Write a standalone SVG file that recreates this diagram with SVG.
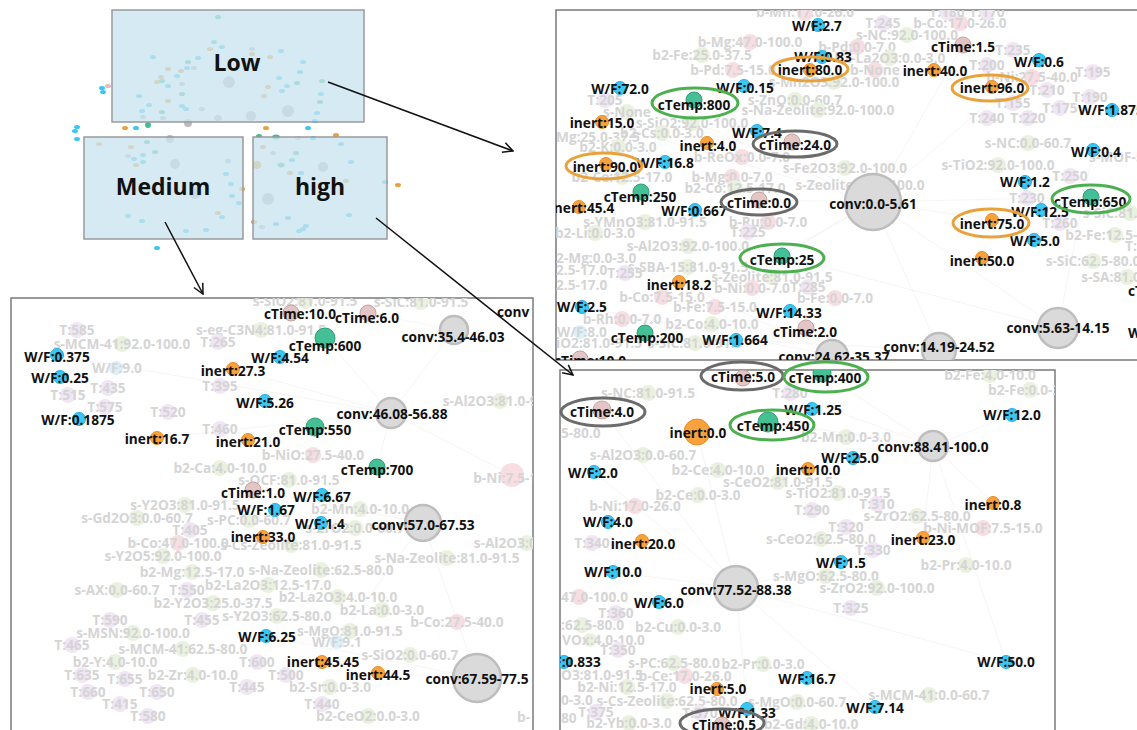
<svg xmlns="http://www.w3.org/2000/svg" width="1137" height="730" viewBox="0 0 1137 730">
<style>
text{font-family:"Open Sans","Noto Sans","DejaVu Sans",sans-serif;font-weight:bold;font-size:13.7px;text-anchor:middle}
.t{fill:#111}
.f{fill:#d5d5d5}
.fs0{text-anchor:start}
.wf{fill:#3cc6f2;stroke:#20aee6;stroke-width:1}
.in{fill:#f7a23c;stroke:#ea8d22;stroke-width:1}
.ct{fill:#45bf95;stroke:#2e9d76;stroke-width:1}
.ti{fill:#e3c5c5;stroke:#c9a2a2;stroke-width:1}
.cv{fill:#dadada;stroke:#bdbdbd;stroke-width:2.5}
.pb{fill:#f8dde3}.pg{fill:#eaf2df}.pt{fill:#f0e6f5}.pw{fill:#dbf0fa}
.ho{fill:none;stroke:#e9a23b;stroke-width:3}
.hg{fill:none;stroke:#4caf50;stroke-width:3}
.hk{fill:none;stroke:#6b6b6b;stroke-width:3}
.panel{fill:#fff;stroke:#7a7a7a;stroke-width:1.5}
.tb{fill:#c9e4ee;fill-opacity:0.78;stroke:#9a9a9a;stroke-width:1.5}
.big{font-size:23px;fill:#111}
.dc{fill:#3cc6f2}.do{fill:#e9a13f}.dg{fill:#3fbf92}.dk{fill:#bbb}.dp{fill:#e7b9c4}
.e{stroke:#f3eff1;stroke-width:0.7;fill:none}
.ar{stroke:#111;stroke-width:1.5;fill:none}
</style>
<defs>
<marker id="ah" viewBox="0 0 12 12" refX="11" refY="6" markerWidth="12" markerHeight="12" markerUnits="userSpaceOnUse" orient="auto"><path d="M1,1 L11,6 L1,11" fill="none" stroke="#111" stroke-width="1.5"/></marker>
<clipPath id="cTR"><rect x="556" y="10" width="600" height="350"/></clipPath>
<clipPath id="cBL"><rect x="11" y="298" width="522" height="450"/></clipPath>
<clipPath id="cBR"><rect x="560" y="370" width="495" height="380"/></clipPath>
</defs>
<rect width="1137" height="730" fill="#fff"/>

<!-- thumbnail overview -->
<g id="overview">
<g id="thumb-dots">
<ellipse class="dg" cx="218" cy="17" rx="3" ry="2"/><ellipse class="dc" cx="214" cy="42" rx="3" ry="2"/><ellipse class="dc" cx="222" cy="47" rx="3" ry="2"/><ellipse class="do" cx="210" cy="49" rx="3" ry="2"/><ellipse class="dk" cx="252" cy="49" rx="3" ry="2"/><ellipse class="do" cx="252" cy="54" rx="3" ry="2"/><ellipse class="dc" cx="281" cy="51" rx="3" ry="2"/><ellipse class="do" cx="270" cy="57" rx="3" ry="2"/><ellipse class="dc" cx="153" cy="57" rx="3" ry="2"/><ellipse class="dc" cx="198" cy="58" rx="3" ry="2"/><ellipse class="dg" cx="188" cy="62" rx="3" ry="2"/><ellipse class="dc" cx="303" cy="62" rx="3" ry="2"/><ellipse class="dc" cx="187" cy="68" rx="3" ry="2"/><ellipse class="dk" cx="194" cy="68" rx="3" ry="2"/><ellipse class="do" cx="168" cy="69" rx="3" ry="2"/><ellipse class="do" cx="181" cy="71" rx="3" ry="2"/><ellipse class="dc" cx="300" cy="72" rx="3" ry="2"/><ellipse class="dc" cx="177" cy="76" rx="3" ry="2"/><ellipse class="do" cx="161" cy="77" rx="3" ry="2"/><ellipse class="dc" cx="279" cy="78" rx="3" ry="2"/><ellipse class="do" cx="157" cy="82" rx="3" ry="2"/><ellipse class="dg" cx="162" cy="81" rx="3" ry="2"/><ellipse class="dg" cx="297" cy="83" rx="3" ry="2"/><ellipse class="dg" cx="322" cy="81" rx="3" ry="2"/><circle class="dk" cx="229" cy="82" r="6"/><ellipse class="dc" cx="168" cy="86" rx="3" ry="2"/><ellipse class="dk" cx="182" cy="84" rx="3" ry="2"/><ellipse class="do" cx="268" cy="87" rx="3" ry="2"/><ellipse class="dc" cx="287" cy="86" rx="3" ry="2"/><ellipse class="dc" cx="139" cy="96" rx="3" ry="2"/><ellipse class="dc" cx="282" cy="91" rx="3" ry="2"/><ellipse class="dg" cx="182" cy="94" rx="3" ry="2"/><ellipse class="do" cx="264" cy="96" rx="3" ry="2"/><ellipse class="dc" cx="321" cy="94" rx="3" ry="2"/><ellipse class="do" cx="168" cy="101" rx="3" ry="2"/><ellipse class="dc" cx="149" cy="105" rx="3" ry="2"/><ellipse class="dc" cx="182" cy="106" rx="3" ry="2"/><ellipse class="dg" cx="320" cy="102" rx="3" ry="2"/><ellipse class="dc" cx="186" cy="109" rx="3" ry="2"/><ellipse class="dk" cx="202" cy="109" rx="3" ry="2"/><ellipse class="dc" cx="142" cy="111" rx="3" ry="2"/><ellipse class="dg" cx="162" cy="112" rx="3" ry="2"/><circle class="dk" cx="288" cy="111" r="6"/><ellipse class="dc" cx="317" cy="113" rx="3" ry="2"/><ellipse class="dk" cx="143" cy="117" rx="3" ry="2"/><ellipse class="dk" cx="163" cy="118" rx="3" ry="2"/><ellipse class="dk" cx="218" cy="118" rx="4" ry="3"/><circle class="dk" cx="251" cy="116" r="5"/><ellipse class="dc" cx="315" cy="121" rx="3" ry="2"/>
<ellipse class="dc" cx="102" cy="88" rx="3" ry="2"/><ellipse class="dc" cx="103" cy="92" rx="3" ry="2"/><ellipse class="dp" cx="108" cy="86" rx="3" ry="2"/>
<ellipse class="dc" cx="77" cy="127" rx="3" ry="2"/><ellipse class="dc" cx="75" cy="131" rx="3" ry="2"/><ellipse class="dc" cx="77" cy="139" rx="3" ry="2"/>
<ellipse class="do" cx="125" cy="128" rx="3" ry="2"/><ellipse class="dc" cx="136" cy="128" rx="3" ry="2"/><circle class="dg" cx="148" cy="125" r="3"/><circle class="dk" cx="188" cy="123" r="4"/>
<ellipse class="do" cx="266" cy="128" rx="3" ry="2"/><ellipse class="dc" cx="308" cy="128" rx="3" ry="2"/><ellipse class="dg" cx="259" cy="136" rx="3" ry="2"/><ellipse class="dg" cx="276" cy="137" rx="4" ry="2.5"/><ellipse class="dp" cx="298" cy="138" rx="3" ry="2"/><ellipse class="do" cx="336" cy="135" rx="3" ry="2"/><ellipse class="dc" cx="313" cy="138" rx="3" ry="2"/>
<ellipse class="do" cx="398" cy="185" rx="3" ry="2"/><ellipse class="dc" cx="385" cy="182" rx="3" ry="2"/><ellipse class="dc" cx="157" cy="248" rx="3" ry="2"/>
<ellipse class="do" cx="99" cy="144" rx="3" ry="2"/><ellipse class="do" cx="131" cy="147" rx="3" ry="2"/><ellipse class="dg" cx="147" cy="142" rx="3" ry="2"/><circle class="dk" cx="170" cy="139" r="4"/><ellipse class="dk" cx="128" cy="156" rx="3" ry="2"/><ellipse class="dc" cx="143" cy="155" rx="3" ry="2"/><ellipse class="dg" cx="155" cy="152" rx="3" ry="2"/><ellipse class="dc" cx="134" cy="159" rx="3" ry="2"/><ellipse class="dc" cx="143" cy="162" rx="3" ry="2"/><ellipse class="do" cx="136" cy="165" rx="3" ry="2"/><circle class="dk" cx="175" cy="164" r="5"/><ellipse class="dk" cx="228" cy="161" rx="3" ry="2.5"/><ellipse class="dc" cx="226" cy="174" rx="3" ry="2"/><ellipse class="dc" cx="231" cy="184" rx="3" ry="2"/><ellipse class="do" cx="242" cy="189" rx="3" ry="2"/><ellipse class="dc" cx="232" cy="196" rx="3" ry="2"/><ellipse class="dc" cx="239" cy="203" rx="3" ry="2"/><ellipse class="do" cx="218" cy="213" rx="3" ry="2"/><ellipse class="dc" cx="222" cy="217" rx="3" ry="2"/><ellipse class="dc" cx="128" cy="216" rx="3" ry="2"/><ellipse class="dc" cx="142" cy="221" rx="3" ry="2"/><ellipse class="dc" cx="186" cy="231" rx="3" ry="2"/><ellipse class="dc" cx="206" cy="230" rx="3" ry="2"/><circle class="dk" cx="195" cy="193" r="6"/>
<ellipse class="do" cx="263" cy="147" rx="3" ry="2"/><ellipse class="dk" cx="273" cy="153" rx="3" ry="2"/><ellipse class="dg" cx="296" cy="153" rx="3" ry="2"/><ellipse class="dg" cx="281" cy="165" rx="3.5" ry="2.5"/><circle class="do" cx="257" cy="165" r="4"/><ellipse class="dc" cx="292" cy="160" rx="3" ry="2"/><circle class="dk" cx="323" cy="167" r="5"/><ellipse class="dc" cx="341" cy="144" rx="3" ry="2"/><ellipse class="dc" cx="351" cy="162" rx="3" ry="2"/><ellipse class="do" cx="290" cy="173" rx="3" ry="2"/><ellipse class="dc" cx="301" cy="173" rx="3" ry="2"/><ellipse class="do" cx="346" cy="181" rx="3" ry="2"/><circle class="dk" cx="268" cy="199" r="6"/><ellipse class="dc" cx="349" cy="215" rx="3" ry="2"/><ellipse class="dc" cx="288" cy="218" rx="3" ry="2"/><ellipse class="dc" cx="276" cy="224" rx="3" ry="2"/><ellipse class="dc" cx="306" cy="226" rx="3" ry="2"/><ellipse class="dc" cx="303" cy="229" rx="3" ry="2"/><ellipse class="dc" cx="299" cy="231" rx="3" ry="2"/><ellipse class="do" cx="254" cy="222" rx="3" ry="2"/><ellipse class="dk" cx="262" cy="227" rx="3" ry="2"/>
</g>
<g id="box-low"><rect class="tb" x="112" y="10" width="252" height="112"/><text class="big" x="237" y="71">Low</text></g>
<g id="box-medium"><rect class="tb" x="84" y="137" width="159" height="102"/><text class="big" x="163" y="195">Medium</text></g>
<g id="box-high"><rect class="tb" x="253" y="137" width="134" height="102"/><text class="big" x="320" y="195">high</text></g>
</g>

<!-- ===== Top-right panel (Low) ===== -->
<rect class="panel" x="556" y="10" width="600" height="350"/>
<g id="panel-low" clip-path="url(#cTR)">
<g id="tr-edges">
<path class="e" d="M873,202 L620,88 M873,202 L694,100 M873,202 L963,45 M873,202 L1091,197 M873,202 L782,256 M873,202 L645,333 M873,202 L1058,328 M873,202 L939,350 M873,202 L602,122 M873,202 L1039,60 M1058,328 L782,256 M1058,328 L1093,150 M939,350 L736,340 M832,355 L679,282 M832,355 L582,307 M873,202 L759,200 M873,202 L992,220"/>
</g>
<g id="tr-bg">
<g><circle class="pb" cx="805" cy="13" r="8"/><text class="f" x="805" y="17">b-Mn:17.0-26.0</text></g>
<g><circle class="pb" cx="750" cy="42" r="8"/><text class="f" x="750" y="46.5">b-Mg:47.0-100.0</text></g>
<g><circle class="pg" cx="702" cy="55" r="8"/><text class="f" x="702" y="59.5">b2-Fe:25.0-37.5</text></g>
<g><circle class="pb" cx="733" cy="70" r="8"/><text class="f" x="733" y="74.5">b-Pd:7.5-15.0</text></g>
<g><circle class="pg" cx="834" cy="82" r="8"/><text class="f" x="834" y="86.5">s-Mn2O3:92.0-100.0</text></g>
<g><circle class="pt" cx="605" cy="100" r="8"/><text class="f" x="605" y="104.5">T:205</text></g>
<g><circle class="pg" cx="627" cy="112" r="8"/><text class="f" x="627" y="116.5">s-None</text></g>
<g><circle class="pg" cx="795" cy="100" r="8"/><text class="f" x="795" y="104.5">s-ZnO:0.0-60.7</text></g>
<g><circle class="pg" cx="818" cy="110" r="8"/><text class="f" x="818" y="114.5">s-Na-Zeolite:92.0-100.0</text></g>
<g><circle class="pg" cx="692" cy="123" r="8"/><text class="f" x="692" y="127.5">s-SiO2:92.0-100.0</text></g>
<g><text class="f fs0" x="556" y="141.5">Mg:25.0-37.5</text></g>
<g><circle class="pg" cx="662" cy="133" r="8"/><text class="f" x="662" y="137.5">b2-Cs:0.0-3.0</text></g>
<g><circle class="pg" cx="618" cy="147" r="8"/><text class="f" x="618" y="151.5">b2-K:0.0-3.0</text></g>
<g><circle class="pb" cx="742" cy="157" r="8"/><text class="f" x="742" y="161.5">b-ReOx:0.0-7.0</text></g>
<g><circle class="pg" cx="845" cy="168" r="8"/><text class="f" x="845" y="172.5">s-Fe2O3:92.0-100.0</text></g>
<g><circle class="pb" cx="732" cy="177" r="8"/><text class="f" x="732" y="181.5">b-Mg:0.0-7.0</text></g>
<g><circle class="pg" cx="622" cy="177" r="8"/><text class="f" x="622" y="181.5">b2-Ce:12.5-17.0</text></g>
<g><circle class="pt" cx="883" cy="23" r="8"/><text class="f" x="883" y="27.5">T:245</text></g>
<g><circle class="pb" cx="960" cy="23" r="8"/><text class="f" x="960" y="27.5">b-Co:17.0-26.0</text></g>
<g><circle class="pt" cx="947" cy="12" r="8"/><text class="f" x="947" y="16.5">T:180</text></g>
<g><circle class="pt" cx="987" cy="12" r="8"/><text class="f" x="987" y="16.5">T:170</text></g>
<g><circle class="pg" cx="907" cy="35" r="8"/><text class="f" x="907" y="39.5">s-NC:92.0-100.0</text></g>
<g><circle class="pb" cx="857" cy="47" r="8"/><text class="f" x="857" y="51.5">b-Pd:0.0-7.0</text></g>
<g><circle class="pg" cx="890" cy="58" r="8"/><text class="f" x="890" y="62.5">b2-La2O3:0.0-3.0</text></g>
<g><circle class="pt" cx="1013" cy="50" r="8"/><text class="f" x="1013" y="54.5">T:235</text></g>
<g><circle class="pb" cx="875" cy="70" r="8"/><text class="f" x="875" y="74.5">b-None</text></g>
<g><circle class="pt" cx="987" cy="65" r="8"/><text class="f" x="987" y="69.5">T:200</text></g>
<g><circle class="pb" cx="1032" cy="77" r="8"/><text class="f" x="1032" y="81.5">b-Ni:27.5-40.0</text></g>
<g><circle class="pt" cx="1093" cy="72" r="8"/><text class="f" x="1093" y="76.5">T:195</text></g>
<g><circle class="pt" cx="1047" cy="90" r="8"/><text class="f" x="1047" y="94.5">T:210</text></g>
<g><circle class="pt" cx="1090" cy="97" r="8"/><text class="f" x="1090" y="101.5">T:190</text></g>
<g><circle class="pt" cx="1060" cy="108" r="8"/><text class="f" x="1060" y="112.5">T:175</text></g>
<g><circle class="pt" cx="1013" cy="103" r="8"/><text class="f" x="1013" y="107.5">T:155</text></g>
<g><circle class="pt" cx="987" cy="118" r="8"/><text class="f" x="987" y="122.5">T:240</text></g>
<g><circle class="pt" cx="1028" cy="118" r="8"/><text class="f" x="1028" y="122.5">T:220</text></g>
<g><circle class="pg" cx="1028" cy="143" r="8"/><text class="f" x="1028" y="147.5">s-NC:0.0-60.7</text></g>
<g><circle class="pg" cx="1148" cy="157" r="8"/><text class="f" x="1148" y="161.5">s-MOF-5:81.0-91.5</text></g>
<g><circle class="pg" cx="998" cy="165" r="8"/><text class="f" x="998" y="169.5">s-TiO2:92.0-100.0</text></g>
<g><circle class="pt" cx="1070" cy="176" r="8"/><text class="f" x="1070" y="180.5">T:250</text></g>
<g><circle class="pg" cx="860" cy="185" r="8"/><text class="f" x="860" y="189.5">s-Zeolite:92.0-100.0</text></g>
<g><circle class="pt" cx="1027" cy="198" r="8"/><text class="f" x="1027" y="202.5">T:230</text></g>
<g><circle class="pg" cx="1130" cy="213" r="8"/><text class="f" x="1130" y="217.5">s-SiC:81.0-91.5</text></g>
<g><circle class="pt" cx="1060" cy="223" r="8"/><text class="f" x="1060" y="227.5">T:260</text></g>
<g><circle class="pg" cx="1115" cy="235" r="8"/><text class="f" x="1115" y="239.5">b2-Fe:12.5-17.0</text></g>
<g><text class="f fs0" x="1125" y="250.5">T:3</text></g>
<g><circle class="pg" cx="1093" cy="261" r="8"/><text class="f" x="1093" y="265.5">s-SiC:62.5-80.0</text></g>
<g><circle class="pg" cx="1127" cy="277" r="8"/><text class="f" x="1127" y="281.5">s-SA:81.0-91.5</text></g>
<g><circle class="pg" cx="735" cy="188" r="8"/><text class="f" x="735" y="192.5">b2-Co:12.5-17.0</text></g>
<g><circle class="pg" cx="645" cy="222" r="8"/><text class="f" x="645" y="226.5">s-YMnO3:81.0-91.5</text></g>
<g><circle class="pb" cx="768" cy="222" r="8"/><text class="f" x="768" y="226.5">b-Ru:0.0-7.0</text></g>
<g><circle class="pg" cx="595" cy="233" r="8"/><text class="f" x="595" y="237.5">b2-Li:0.0-3.0</text></g>
<g><circle class="pt" cx="748" cy="232" r="8"/><text class="f" x="748" y="236.5">T:225</text></g>
<g><circle class="pg" cx="688" cy="246" r="8"/><text class="f" x="688" y="250.5">s-Al2O3:92.0-100.0</text></g>
<g><text class="f fs0" x="556" y="262.5">2-Mg:0.0-3.0</text></g>
<g><circle class="pg" cx="688" cy="267" r="8"/><text class="f" x="688" y="271.5">s-SBA-15:81.0-91.5</text></g>
<g><text class="f fs0" x="556" y="274.5">2.5-17.0</text></g>
<g><text class="f fs0" x="556" y="289.5">2.5-17.0</text></g>
<g><circle class="pt" cx="625" cy="273" r="8"/><text class="f" x="625" y="277.5">T:255</text></g>
<g><circle class="pg" cx="772" cy="277" r="8"/><text class="f" x="772" y="281.5">s-Zeolite:81.0-91.5</text></g>
<g><circle class="pb" cx="752" cy="288" r="8"/><text class="f" x="752" y="292.5">b-Ni:0.0-7.0</text></g>
<g><circle class="pt" cx="808" cy="287" r="8"/><text class="f" x="808" y="291.5">T:285</text></g>
<g><circle class="pb" cx="662" cy="297" r="8"/><text class="f" x="662" y="301.5">b-Co:7.5-15.0</text></g>
<g><circle class="pb" cx="835" cy="298" r="8"/><text class="f" x="835" y="302.5">b-Fe:0.0-7.0</text></g>
<g><circle class="pb" cx="715" cy="307" r="8"/><text class="f" x="715" y="311.5">b-Fe:7.5-15.0</text></g>
<g><circle class="pb" cx="622" cy="319" r="8"/><text class="f" x="622" y="323.5">b-Rh:0.0-7.0</text></g>
<g><circle class="pg" cx="712" cy="324" r="8"/><text class="f" x="712" y="328.5">b2-Co:4.0-10.0</text></g>
<g><circle class="pw" cx="580" cy="332" r="7"/><text class="f" x="582" y="336.5">W/F:8.0</text></g>
<g><text class="f fs0" x="556" y="347.5">iO2:81.0-91.5</text></g>
<g><circle class="pg" cx="695" cy="343" r="8"/><text class="f" x="695" y="347.5">s-SiC:81.0-91.5</text></g>
</g>
<g id="tr-nodes">
<g id="tr-wf-2-7"><circle class="wf" cx="818" cy="25" r="6.5"/><text class="t" x="817" y="30.5">W/F:2.7</text></g>
<g id="tr-wf-0-83"><circle class="wf" cx="822" cy="57" r="6.5"/><text class="t" x="823" y="61.5">W/F:0.83</text></g>
<g id="tr-inert-80"><circle class="in" cx="810" cy="70" r="6.5"/><text class="t" x="810" y="74.5">inert:80.0</text></g>
<g id="tr-wf-72"><circle class="wf" cx="620" cy="88" r="6.5"/><text class="t" x="620" y="93.5">W/F:72.0</text></g>
<g id="tr-wf-0-15"><circle class="wf" cx="744" cy="86" r="6.5"/><text class="t" x="745" y="92.5">W/F:0.15</text></g>
<g id="tr-ctemp-800"><circle class="ct" cx="694" cy="100" r="8"/><text class="t" x="694" y="109.5">cTemp:800</text></g>
<g id="tr-inert-15"><circle class="in" cx="602" cy="122" r="6.5"/><text class="t" x="602" y="127.5">inert:15.0</text></g>
<g id="tr-wf-7-4"><circle class="wf" cx="757" cy="131" r="6.5"/><text class="t" x="757" y="137.5">W/F:7.4</text></g>
<g id="tr-ctime-24"><circle class="ti" cx="792" cy="142" r="8"/><text class="t" x="795" y="149.5">cTime:24.0</text></g>
<g id="tr-inert-4"><circle class="in" cx="707" cy="143" r="6.5"/><text class="t" x="708" y="150.5">inert:4.0</text></g>
<g id="tr-inert-90"><circle class="in" cx="606" cy="164" r="6.5"/><text class="t" x="605" y="171.5">inert:90.0</text></g>
<g id="tr-wf-16-8"><circle class="wf" cx="665" cy="162" r="6.5"/><text class="t" x="665" y="167.5">W/F:16.8</text></g>
<g id="tr-ctime-1-5"><circle class="ti" cx="963" cy="45" r="8"/><text class="t" x="963" y="51.5">cTime:1.5</text></g>
<g id="tr-wf-0-6"><circle class="wf" cx="1039" cy="60" r="6.5"/><text class="t" x="1039" y="66.5">W/F:0.6</text></g>
<g id="tr-inert-40"><circle class="in" cx="934" cy="70" r="6.5"/><text class="t" x="935" y="75.5">inert:40.0</text></g>
<g id="tr-inert-96"><circle class="in" cx="992" cy="87" r="6.5"/><text class="t" x="992" y="92.5">inert:96.0</text></g>
<g id="tr-wf-1-875"><circle class="wf" cx="1112" cy="110" r="6.5"/><text class="t" x="1111" y="114.5">W/F:1.875</text></g>
<g id="tr-wf-0-4"><circle class="wf" cx="1093" cy="150" r="6.5"/><text class="t" x="1096" y="156.5">W/F:0.4</text></g>
<g id="tr-wf-1-2"><circle class="wf" cx="1025" cy="182" r="6.5"/><text class="t" x="1025" y="186.5">W/F:1.2</text></g>
<g id="tr-ctemp-250"><circle class="ct" cx="641" cy="192" r="8"/><text class="t" x="640" y="201.5">cTemp:250</text></g>
<g id="tr-inert-45-4"><circle class="in" cx="579" cy="207" r="6.5"/><text class="t" x="582" y="212.5">inert:45.4</text></g>
<g id="tr-wf-0-667"><circle class="wf" cx="695" cy="210" r="6.5"/><text class="t" x="694" y="215.5">W/F:0.667</text></g>
<g id="tr-ctime-0"><circle class="ti" cx="759" cy="200" r="8"/><text class="t" x="759" y="207.5">cTime:0.0</text></g>
<g id="tr-conv-0-5-61"><circle class="cv" cx="873" cy="202" r="28"/><text class="t" x="873" y="208.5">conv:0.0-5.61</text></g>
<g id="tr-ctemp-650"><circle class="ct" cx="1091" cy="197" r="8"/><text class="t" x="1090" y="206.5">cTemp:650</text></g>
<g id="tr-wf-12-5"><circle class="wf" cx="1041" cy="210" r="6.5"/><text class="t" x="1040" y="216.5">W/F:12.5</text></g>
<g id="tr-inert-75"><circle class="in" cx="992" cy="220" r="6.5"/><text class="t" x="992" y="228.5">inert:75.0</text></g>
<g id="tr-wf-5"><circle class="wf" cx="1034" cy="240" r="6.5"/><text class="t" x="1035" y="245.5">W/F:5.0</text></g>
<g id="tr-inert-50"><circle class="in" cx="982" cy="258" r="6.5"/><text class="t" x="982" y="265.5">inert:50.0</text></g>
<g id="tr-ctemp-25"><circle class="ct" cx="782" cy="256" r="8"/><text class="t" x="782" y="264.5">cTemp:25</text></g>
<g id="tr-inert-18-2"><circle class="in" cx="679" cy="282" r="6.5"/><text class="t" x="679" y="289.5">inert:18.2</text></g>
<g id="tr-wf-2-5"><circle class="wf" cx="582" cy="307" r="6.5"/><text class="t" x="582" y="311.5">W/F:2.5</text></g>
<g id="tr-wf-14-33"><circle class="wf" cx="790" cy="311" r="6.5"/><text class="t" x="789" y="317.5">W/F:14.33</text></g>
<g id="tr-ctime-2"><circle class="ti" cx="806" cy="328" r="8"/><text class="t" x="805" y="336.5">cTime:2.0</text></g>
<g id="tr-ctemp-200"><circle class="ct" cx="645" cy="333" r="8"/><text class="t" x="647" y="342.5">cTemp:200</text></g>
<g id="tr-wf-1-664"><circle class="wf" cx="736" cy="340" r="6.5"/><text class="t" x="735" y="344.5">W/F:1.664</text></g>
<g id="tr-conv-5-63"><circle class="cv" cx="1058" cy="328" r="20"/><text class="t" x="1058" y="332.5">conv:5.63-14.15</text></g>
<g id="tr-conv-14-19"><circle class="cv" cx="939" cy="350" r="17"/><text class="t" x="939" y="351.5">conv:14.19-24.52</text></g>
<g id="tr-conv-24-62"><circle class="cv" cx="832" cy="356" r="16"/><text class="t" x="834" y="361.5">conv:24.62-35.37</text></g>
<g id="tr-ctime-10"><circle class="ti" cx="580" cy="359" r="8"/><text class="t" x="590" y="365.5">cTime:10.0</text></g>
<g id="tr-edge-ct"><text class="t fs0" x="1128" y="295.5">cTime</text></g>
<g id="tr-edge-wf"><text class="t fs0" x="1128" y="337.5">W/F</text></g>
</g>
</g>

<!-- ===== Bottom-left panel (Medium) ===== -->
<rect class="panel" x="11" y="298" width="522" height="450"/>
<g id="panel-medium" clip-path="url(#cBL)">
<g id="bl-edges">
<path class="e" d="M391,413 L57,355 M391,413 L233,369 M391,413 L325,338 M391,413 L157,438 M391,413 L377,467 M391,413 L454,330 M423,523 L253,490 M423,523 L322,662 M477,678 L378,673 M477,678 L266,636 M391,413 L512,475 M423,523 L263,537 M454,330 L368,313 M477,678 L423,523"/>
</g>
<g id="bl-bg">
<g><circle class="pt" cx="77" cy="330" r="8"/><text class="f" x="77" y="334.5">T:585</text></g>
<g><circle class="pg" cx="122" cy="344" r="8"/><text class="f" x="122" y="348.5">s-MCM-41:92.0-100.0</text></g>
<g><circle class="pg" cx="261" cy="330" r="8"/><text class="f" x="261" y="334.5">s-eg-C3N4:81.0-91.5</text></g>
<g><circle class="pt" cx="218" cy="342" r="8"/><text class="f" x="218" y="346.5">T:265</text></g>
<g><circle class="pg" cx="305" cy="301" r="8"/><text class="f" x="305" y="305.5">s-SiO2:81.0-91.5</text></g>
<g><circle class="pg" cx="421" cy="302" r="8"/><text class="f" x="421" y="306.5">s-SiC:81.0-91.5</text></g>
<g><circle class="pw" cx="116" cy="368" r="7"/><text class="f" x="117" y="372.5">W/F:9.0</text></g>
<g><circle class="pt" cx="68" cy="395" r="8"/><text class="f" x="68" y="399.5">T:515</text></g>
<g><circle class="pt" cx="108" cy="388" r="8"/><text class="f" x="108" y="392.5">T:435</text></g>
<g><circle class="pt" cx="220" cy="386" r="8"/><text class="f" x="220" y="390.5">T:395</text></g>
<g><circle class="pt" cx="105" cy="407" r="8"/><text class="f" x="105" y="411.5">T:575</text></g>
<g><circle class="pt" cx="168" cy="412" r="8"/><text class="f" x="168" y="416.5">T:520</text></g>
<g><circle class="pt" cx="220" cy="429" r="8"/><text class="f" x="220" y="433.5">T:460</text></g>
<g><circle class="pb" cx="313" cy="455" r="8"/><text class="f" x="313" y="459.5">b-NiO:27.5-40.0</text></g>
<g><circle class="pg" cx="220" cy="468" r="8"/><text class="f" x="220" y="472.5">b2-Ca:4.0-10.0</text></g>
<g><circle class="pg" cx="289" cy="480" r="8"/><text class="f" x="289" y="484.5">s-OCF:81.0-91.5</text></g>
<g><circle class="pg" cx="185" cy="505" r="8"/><text class="f" x="185" y="509.5">s-Y2O3:81.0-91.5</text></g>
<g><circle class="pg" cx="500" cy="401" r="8"/><text class="f" x="500" y="405.5">s-Al2O3:81.0-91.5</text></g>
<g><circle class="pb" cx="512" cy="475" r="12"/><text class="f" x="515" y="482.5">b-Ni:7.5-15.0</text></g>
<g><circle class="pg" cx="360" cy="509" r="8"/><text class="f" x="360" y="513.5">b2-Mn:4.0-10.0</text></g>
<g><circle class="pg" cx="137" cy="518" r="8"/><text class="f" x="137" y="522.5">s-Gd2O3:0.0-60.7</text></g>
<g><circle class="pg" cx="249" cy="520" r="8"/><text class="f" x="249" y="524.5">s-PC:0.0-60.7</text></g>
<g><circle class="pg" cx="355" cy="528" r="8"/><text class="f" x="355" y="532.5">s-ZrO2:0.0-60.7</text></g>
<g><circle class="pt" cx="190" cy="530" r="8"/><text class="f" x="190" y="534.5">T:405</text></g>
<g><circle class="pb" cx="178" cy="543" r="8"/><text class="f" x="178" y="547.5">b-Co:47.0-100.0</text></g>
<g><circle class="pg" cx="291" cy="545" r="8"/><text class="f" x="291" y="549.5">s-Cs-Zeolite:81.0-91.5</text></g>
<g><circle class="pg" cx="527" cy="543" r="8"/><text class="f" x="527" y="547.5">s-Al2O3:0.0-60.7</text></g>
<g><circle class="pg" cx="163" cy="556" r="8"/><text class="f" x="163" y="560.5">s-Y2O5:92.0-100.0</text></g>
<g><circle class="pg" cx="447" cy="558" r="8"/><text class="f" x="447" y="562.5">s-Na-Zeolite:81.0-91.5</text></g>
<g><circle class="pg" cx="192" cy="572" r="8"/><text class="f" x="192" y="576.5">b2-Mg:12.5-17.0</text></g>
<g><circle class="pg" cx="321" cy="570" r="8"/><text class="f" x="321" y="574.5">s-Na-Zeolite:62.5-80.0</text></g>
<g><circle class="pg" cx="117" cy="590" r="8"/><text class="f" x="117" y="594.5">s-AX:0.0-60.7</text></g>
<g><circle class="pt" cx="187" cy="590" r="8"/><text class="f" x="187" y="594.5">T:550</text></g>
<g><circle class="pg" cx="268" cy="585" r="8"/><text class="f" x="268" y="589.5">b2-La2O3:12.5-17.0</text></g>
<g><circle class="pg" cx="338" cy="597" r="8"/><text class="f" x="338" y="601.5">b2-La2O3:4.0-10.0</text></g>
<g><circle class="pg" cx="213" cy="603" r="8"/><text class="f" x="213" y="607.5">b2-Y2O3:25.0-37.5</text></g>
<g><circle class="pg" cx="382" cy="610" r="8"/><text class="f" x="382" y="614.5">b2-La:0.0-3.0</text></g>
<g><circle class="pg" cx="277" cy="616" r="8"/><text class="f" x="277" y="620.5">s-Y2O3:62.5-80.0</text></g>
<g><circle class="pt" cx="202" cy="620" r="8"/><text class="f" x="202" y="624.5">T:455</text></g>
<g><circle class="pt" cx="110" cy="620" r="8"/><text class="f" x="110" y="624.5">T:590</text></g>
<g><circle class="pb" cx="457" cy="622" r="8"/><text class="f" x="457" y="626.5">b-Co:27.5-40.0</text></g>
<g><circle class="pg" cx="350" cy="631" r="8"/><text class="f" x="350" y="635.5">s-MgO:81.0-91.5</text></g>
<g><circle class="pg" cx="133" cy="633" r="8"/><text class="f" x="133" y="637.5">s-MSN:92.0-100.0</text></g>
<g><circle class="pw" cx="337" cy="642" r="7"/><text class="f" x="337" y="646.5">W/F:9.1</text></g>
<g><circle class="pt" cx="72" cy="645" r="8"/><text class="f" x="72" y="649.5">T:465</text></g>
<g><circle class="pg" cx="183" cy="649" r="8"/><text class="f" x="183" y="653.5">s-MCM-41:62.5-80.0</text></g>
<g><circle class="pg" cx="410" cy="655" r="8"/><text class="f" x="410" y="659.5">s-SiO2:0.0-60.7</text></g>
<g><circle class="pg" cx="115" cy="662" r="8"/><text class="f" x="115" y="666.5">b2-Y:4.0-10.0</text></g>
<g><circle class="pt" cx="257" cy="662" r="8"/><text class="f" x="257" y="666.5">T:600</text></g>
<g><circle class="pt" cx="286" cy="675" r="8"/><text class="f" x="286" y="679.5">T:500</text></g>
<g><circle class="pt" cx="82" cy="675" r="8"/><text class="f" x="82" y="679.5">T:635</text></g>
<g><circle class="pt" cx="125" cy="679" r="8"/><text class="f" x="125" y="683.5">T:655</text></g>
<g><circle class="pg" cx="193" cy="675" r="8"/><text class="f" x="193" y="679.5">b2-Zr:4.0-10.0</text></g>
<g><circle class="pt" cx="247" cy="687" r="8"/><text class="f" x="247" y="691.5">T:445</text></g>
<g><circle class="pg" cx="330" cy="687" r="8"/><text class="f" x="330" y="691.5">b2-Sr:0.0-3.0</text></g>
<g><circle class="pt" cx="88" cy="692" r="8"/><text class="f" x="88" y="696.5">T:660</text></g>
<g><circle class="pt" cx="157" cy="692" r="8"/><text class="f" x="157" y="696.5">T:650</text></g>
<g><circle class="pt" cx="120" cy="704" r="8"/><text class="f" x="120" y="708.5">T:415</text></g>
<g><circle class="pt" cx="322" cy="704" r="8"/><text class="f" x="322" y="708.5">T:440</text></g>
<g><circle class="pt" cx="148" cy="716" r="8"/><text class="f" x="148" y="720.5">T:580</text></g>
<g><circle class="pg" cx="368" cy="716" r="8"/><text class="f" x="368" y="720.5">b2-CeO2:0.0-3.0</text></g>
<g><text class="f fs0" x="517" y="721.5">b-</text></g>
</g>
<g id="bl-nodes">
<g id="bl-wf-0-375"><circle class="wf" cx="57" cy="355" r="6.5"/><text class="t" x="57" y="361.5">W/F:0.375</text></g>
<g id="bl-wf-0-25"><circle class="wf" cx="60" cy="377" r="6.5"/><text class="t" x="60" y="382.5">W/F:0.25</text></g>
<g id="bl-wf-0-1875"><circle class="wf" cx="79" cy="419" r="6.5"/><text class="t" x="78" y="424.5">W/F:0.1875</text></g>
<g id="bl-inert-16-7"><circle class="in" cx="157" cy="438" r="6.5"/><text class="t" x="157" y="443.5">inert:16.7</text></g>
<g id="bl-inert-27-3"><circle class="in" cx="233" cy="369" r="6.5"/><text class="t" x="233" y="375.5">inert:27.3</text></g>
<g id="bl-wf-4-54"><circle class="wf" cx="280" cy="357" r="6.5"/><text class="t" x="280" y="362.5">W/F:4.54</text></g>
<g id="bl-wf-5-26"><circle class="wf" cx="265" cy="401" r="6.5"/><text class="t" x="265" y="407.5">W/F:5.26</text></g>
<g id="bl-inert-21"><circle class="in" cx="248" cy="440" r="6.5"/><text class="t" x="248" y="446.5">inert:21.0</text></g>
<g id="bl-ctime-10"><circle class="ti" cx="291" cy="313" r="8"/><text class="t" x="300" y="318.5">cTime:10.0</text></g>
<g id="bl-ctime-6"><circle class="ti" cx="368" cy="313" r="8"/><text class="t" x="367" y="322.5">cTime:6.0</text></g>
<g id="bl-ctemp-600"><circle class="ct" cx="325" cy="338" r="10"/><text class="t" x="325" y="350.5">cTemp:600</text></g>
<g id="bl-conv-35-4"><circle class="cv" cx="454" cy="330" r="14"/><text class="t" x="453" y="341.5">conv:35.4-46.03</text></g>
<g id="bl-conv-edge"><text class="t fs0" x="497" y="316.5">conv</text></g>
<g id="bl-conv-46-08"><circle class="cv" cx="391" cy="413" r="15"/><text class="t" x="392" y="418.5">conv:46.08-56.88</text></g>
<g id="bl-ctemp-550"><circle class="ct" cx="315" cy="427" r="9"/><text class="t" x="315" y="434.5">cTemp:550</text></g>
<g id="bl-ctemp-700"><circle class="ct" cx="377" cy="467" r="8"/><text class="t" x="377" y="474.5">cTemp:700</text></g>
<g id="bl-ctime-1"><circle class="ti" cx="253" cy="490" r="8"/><text class="t" x="253" y="497.5">cTime:1.0</text></g>
<g id="bl-wf-6-67"><circle class="wf" cx="322" cy="495" r="6.5"/><text class="t" x="322" y="501.5">W/F:6.67</text></g>
<g id="bl-wf-1-67"><circle class="wf" cx="275" cy="510" r="6.5"/><text class="t" x="266" y="514.5">W/F:1.67</text></g>
<g id="bl-wf-1-4"><circle class="wf" cx="321" cy="523" r="6.5"/><text class="t" x="320" y="528.5">W/F:1.4</text></g>
<g id="bl-inert-33"><circle class="in" cx="263" cy="537" r="6.5"/><text class="t" x="263" y="541.5">inert:33.0</text></g>
<g id="bl-conv-57"><circle class="cv" cx="423" cy="523" r="18"/><text class="t" x="423" y="529.5">conv:57.0-67.53</text></g>
<g id="bl-wf-6-25"><circle class="wf" cx="266" cy="636" r="6.5"/><text class="t" x="267" y="641.5">W/F:6.25</text></g>
<g id="bl-inert-45-45"><circle class="in" cx="322" cy="662" r="6.5"/><text class="t" x="323" y="666.5">inert:45.45</text></g>
<g id="bl-inert-44-5"><circle class="in" cx="378" cy="673" r="6.5"/><text class="t" x="378" y="679.5">inert:44.5</text></g>
<g id="bl-conv-67-59"><circle class="cv" cx="477" cy="678" r="24"/><text class="t" x="477" y="683.5">conv:67.59-77.5</text></g>
</g>
</g>

<!-- ===== Bottom-right panel (high) ===== -->
<rect class="panel" x="560" y="370" width="495" height="380"/>
<g id="panel-high" clip-path="url(#cBR)">
<g id="br-edges">
<path class="e" d="M736,588 L602,410 M736,588 L697,432 M736,588 L594,472 M736,588 L841,562 M736,588 L1006,662 M736,588 L747,709 M933,446 L743,378 M933,446 L1012,415 M933,446 L993,503 M933,446 L822,373 M933,446 L768,422 M933,446 L923,538 M736,588 L875,707 M736,588 L613,572 M933,446 L1006,662"/>
</g>
<g id="br-bg">
<g><circle class="pg" cx="648" cy="393" r="8"/><text class="f" x="648" y="397.5">s-NC:81.0-91.5</text></g>
<g><circle class="pt" cx="790" cy="393" r="8"/><text class="f" x="790" y="397.5">T:280</text></g>
<g><text class="f fs0" x="561" y="437.5">5-80.0</text></g>
<g><circle class="pg" cx="846" cy="437" r="8"/><text class="f" x="846" y="441.5">b2-Mn:0.0-3.0</text></g>
<g><circle class="pg" cx="643" cy="455" r="8"/><text class="f" x="643" y="459.5">s-Al2O3:0.0-60.7</text></g>
<g><circle class="pg" cx="718" cy="470" r="8"/><text class="f" x="718" y="474.5">b2-Ce:4.0-10.0</text></g>
<g><circle class="pg" cx="778" cy="482" r="8"/><text class="f" x="778" y="486.5">s-CeO2:81.0-91.5</text></g>
<g><circle class="pg" cx="838" cy="493" r="8"/><text class="f" x="838" y="497.5">s-TiO2:81.0-91.5</text></g>
<g><circle class="pg" cx="698" cy="495" r="8"/><text class="f" x="698" y="499.5">b2-Ce:0.0-3.0</text></g>
<g><circle class="pb" cx="635" cy="506" r="8"/><text class="f" x="635" y="510.5">b-Ni:17.0-26.0</text></g>
<g><circle class="pt" cx="812" cy="510" r="8"/><text class="f" x="812" y="514.5">T:290</text></g>
<g><circle class="pt" cx="846" cy="527" r="8"/><text class="f" x="846" y="531.5">T:320</text></g>
<g><circle class="pg" cx="821" cy="539" r="8"/><text class="f" x="821" y="543.5">s-CeO2:62.5-80.0</text></g>
<g><circle class="pt" cx="592" cy="543" r="8"/><text class="f" x="592" y="547.5">T:340</text></g>
<g><circle class="pg" cx="990" cy="375" r="8"/><text class="f" x="990" y="379.5">b2-Fe:4.0-10.0</text></g>
<g><circle class="pg" cx="1030" cy="390" r="8"/><text class="f" x="1030" y="394.5">b2-Fe:0.0-3.0</text></g>
<g><circle class="pt" cx="877" cy="504" r="8"/><text class="f" x="877" y="508.5">T:310</text></g>
<g><circle class="pg" cx="917" cy="516" r="8"/><text class="f" x="917" y="520.5">s-ZrO2:62.5-80.0</text></g>
<g><circle class="pb" cx="983" cy="528" r="8"/><text class="f" x="983" y="532.5">b-Ni-MOF:7.5-15.0</text></g>
<g><circle class="pt" cx="873" cy="550" r="8"/><text class="f" x="873" y="554.5">T:330</text></g>
<g><circle class="pg" cx="966" cy="565" r="8"/><text class="f" x="966" y="569.5">b2-Pr:4.0-10.0</text></g>
<g><circle class="pg" cx="826" cy="576" r="8"/><text class="f" x="826" y="580.5">s-MgO:62.5-80.0</text></g>
<g><circle class="pg" cx="877" cy="588" r="8"/><text class="f" x="877" y="592.5">s-ZrO2:92.0-100.0</text></g>
<g><circle class="pb" cx="579" cy="597" r="8"/><text class="f fs0" x="561" y="601.5">47.0-100.0</text></g>
<g><circle class="pt" cx="851" cy="608" r="8"/><text class="f" x="851" y="612.5">T:325</text></g>
<g><circle class="pt" cx="616" cy="613" r="8"/><text class="f" x="616" y="617.5">T:360</text></g>
<g><circle class="pg" cx="582" cy="625" r="8"/><text class="f fs0" x="561" y="629.5">:62.5-80.0</text></g>
<g><circle class="pg" cx="678" cy="627" r="8"/><text class="f" x="678" y="631.5">b2-Cu:0.0-3.0</text></g>
<g><circle class="pg" cx="590" cy="640" r="7"/><text class="f fs0" x="562" y="644.5">VOx:4.0-10.0</text></g>
<g><circle class="pt" cx="618" cy="650" r="8"/><text class="f" x="618" y="654.5">T:350</text></g>
<g><circle class="pg" cx="674" cy="663" r="8"/><text class="f" x="674" y="667.5">s-PC:62.5-80.0</text></g>
<g><circle class="pg" cx="763" cy="664" r="8"/><text class="f" x="763" y="668.5">b2-Pr:0.0-3.0</text></g>
<g><text class="f fs0" x="561" y="679.5">O3:81.0-91.5</text></g>
<g><circle class="pb" cx="685" cy="676" r="8"/><text class="f" x="685" y="680.5">b-Ce:17.0-26.0</text></g>
<g><circle class="pg" cx="627" cy="687" r="8"/><text class="f" x="627" y="691.5">b2-Ni:12.5-17.0</text></g>
<g><circle class="pg" cx="929" cy="695" r="8"/><text class="f" x="929" y="699.5">s-MCM-41:0.0-60.7</text></g>
<g><text class="f fs0" x="561" y="704.5">0-3.0</text></g>
<g><circle class="pg" cx="667" cy="701" r="8"/><text class="f" x="667" y="705.5">s-Cs-Zeolite:62.5-80.0</text></g>
<g><circle class="pg" cx="797" cy="702" r="8"/><text class="f" x="797" y="706.5">s-MgO:0.0-60.7</text></g>
<g><circle class="pt" cx="596" cy="712" r="8"/><text class="f" x="596" y="716.5">T:375</text></g>
<g><circle class="pt" cx="700" cy="713" r="8"/><text class="f" x="700" y="717.5">T:370</text></g>
<g><text class="f fs0" x="561" y="722.5">80</text></g>
<g><circle class="pg" cx="629" cy="723" r="8"/><text class="f" x="629" y="727.5">b2-Yb:0.0-3.0</text></g>
<g><circle class="pg" cx="811" cy="724" r="8"/><text class="f" x="811" y="728.5">b2-Gd:4.0-10.0</text></g>
</g>
<g id="br-nodes">
<g id="br-ctime-5"><circle class="ti" cx="743" cy="378" r="8"/><text class="t" x="743" y="381.5">cTime:5.0</text></g>
<g id="br-ctemp-400"><circle class="ct" cx="822" cy="373" r="9"/><text class="t" x="825" y="382.5">cTemp:400</text></g>
<g id="br-ctime-4"><circle class="ti" cx="602" cy="410" r="9"/><text class="t" x="602" y="416.5">cTime:4.0</text></g>
<g id="br-wf-1-25"><circle class="wf" cx="812" cy="409" r="6.5"/><text class="t" x="813" y="414.5">W/F:1.25</text></g>
<g id="br-ctemp-450"><circle class="ct" cx="768" cy="422" r="10"/><text class="t" x="773" y="430.5">cTemp:450</text></g>
<g id="br-inert-0"><circle class="in" cx="697" cy="432" r="13"/><text class="t" x="698" y="437.5">inert:0.0</text></g>
<g id="br-wf-2"><circle class="wf" cx="594" cy="472" r="6.5"/><text class="t" x="593" y="477.5">W/F:2.0</text></g>
<g id="br-inert-10"><circle class="in" cx="808" cy="469" r="6.5"/><text class="t" x="808" y="474.5">inert:10.0</text></g>
<g id="br-wf-25"><circle class="wf" cx="853" cy="458" r="6.5"/><text class="t" x="850" y="462.5">W/F:25.0</text></g>
<g id="br-wf-4"><circle class="wf" cx="608" cy="522" r="6.5"/><text class="t" x="608" y="526.5">W/F:4.0</text></g>
<g id="br-inert-20"><circle class="in" cx="642" cy="541" r="6.5"/><text class="t" x="643" y="548.5">inert:20.0</text></g>
<g id="br-wf-12"><circle class="wf" cx="1012" cy="415" r="6.5"/><text class="t" x="1012" y="419.5">W/F:12.0</text></g>
<g id="br-conv-88-41"><circle class="cv" cx="933" cy="446" r="15"/><text class="t" x="933" y="451.5">conv:88.41-100.0</text></g>
<g id="br-inert-0-8"><circle class="in" cx="993" cy="503" r="6.5"/><text class="t" x="993" y="509.5">inert:0.8</text></g>
<g id="br-inert-23"><circle class="in" cx="923" cy="538" r="6.5"/><text class="t" x="923" y="544.5">inert:23.0</text></g>
<g id="br-wf-1-5"><circle class="wf" cx="841" cy="562" r="6.5"/><text class="t" x="841" y="567.5">W/F:1.5</text></g>
<g id="br-wf-10"><circle class="wf" cx="613" cy="572" r="6.5"/><text class="t" x="613" y="576.5">W/F:10.0</text></g>
<g id="br-conv-77-52"><circle class="cv" cx="736" cy="588" r="22"/><text class="t" x="736" y="594.5">conv:77.52-88.38</text></g>
<g id="br-wf-6"><circle class="wf" cx="659" cy="602" r="6.5"/><text class="t" x="659" y="607.5">W/F:6.0</text></g>
<g id="br-wf-0-833"><circle class="wf" cx="564" cy="662" r="6.5"/><text class="t" x="568" y="666.5">W/F:0.833</text></g>
<g id="br-wf-50"><circle class="wf" cx="1006" cy="662" r="6.5"/><text class="t" x="1006" y="666.5">W/F:50.0</text></g>
<g id="br-wf-16-7"><circle class="wf" cx="807" cy="678" r="6.5"/><text class="t" x="807" y="683.5">W/F:16.7</text></g>
<g id="br-inert-5"><circle class="in" cx="717" cy="689" r="6.5"/><text class="t" x="718" y="693.5">inert:5.0</text></g>
<g id="br-wf-1-33"><circle class="wf" cx="747" cy="709" r="6.5"/><text class="t" x="747" y="717.5">W/F:1.33</text></g>
<g id="br-ctime-0-5"><circle class="ti" cx="722" cy="725" r="8"/><text class="t" x="724" y="729.5">cTime:0.5</text></g>
<g id="br-wf-7-14"><circle class="wf" cx="875" cy="707" r="6.5"/><text class="t" x="875" y="712.5">W/F:7.14</text></g>
</g>
</g>

<!-- highlight rings -->
<g id="highlights">
<ellipse class="ho" cx="810" cy="69" rx="38" ry="12"/>
<ellipse class="hg" cx="695" cy="103" rx="43" ry="15"/>
<ellipse class="hk" cx="795" cy="144" rx="42" ry="13"/>
<ellipse class="ho" cx="604" cy="166" rx="38" ry="13"/>
<ellipse class="ho" cx="990" cy="88" rx="38" ry="13"/>
<ellipse class="hk" cx="759" cy="202" rx="38" ry="13"/>
<ellipse class="hg" cx="1091" cy="199" rx="39" ry="14"/>
<ellipse class="ho" cx="991" cy="223" rx="38" ry="14"/>
<ellipse class="hg" cx="782" cy="258" rx="42" ry="14"/>
<ellipse class="hk" cx="742" cy="376" rx="41" ry="14"/>
<ellipse class="hg" cx="826" cy="377" rx="42" ry="15"/>
<ellipse class="hk" cx="603" cy="412" rx="42" ry="14"/>
<ellipse class="hg" cx="772" cy="425" rx="42" ry="15"/>
<ellipse class="hk" cx="722" cy="723" rx="42" ry="14"/>
</g>

<!-- connectors -->
<g id="connectors">
<path class="ar" d="M328,82 L513,151" marker-end="url(#ah)"/>
<path class="ar" d="M165,222 L203,294" marker-end="url(#ah)"/>
<path class="ar" d="M376,218 L573,375" marker-end="url(#ah)"/>
</g>
</svg>
